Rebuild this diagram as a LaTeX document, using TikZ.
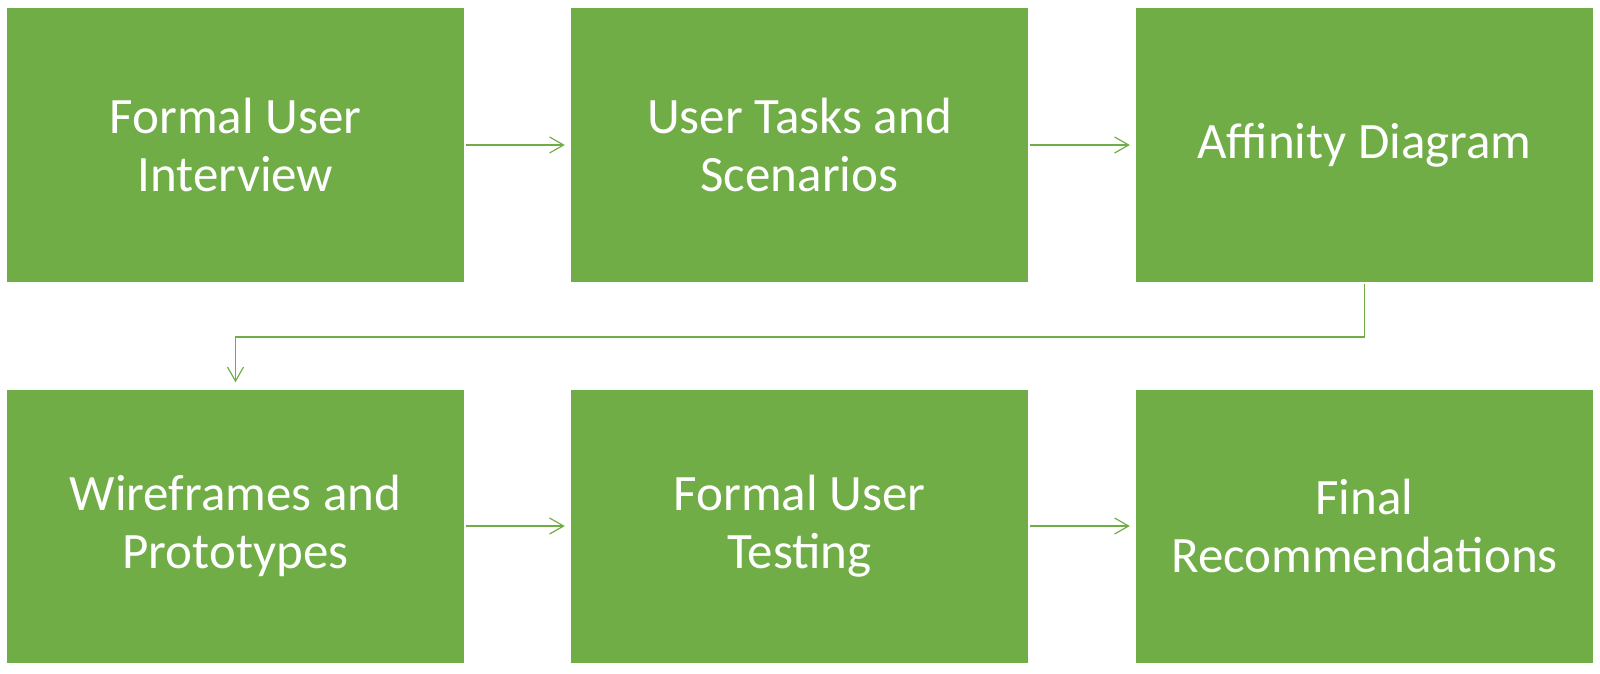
\documentclass[tikz,border=0pt]{standalone}
\usepackage{fontspec}
\setmainfont{Carlito}
\usepackage{xcolor}
\usetikzlibrary{arrows.meta, positioning}
\definecolor{stepgreen}{HTML}{70AD47}

\begin{document}
\begin{tikzpicture}[x=1pt, y=1pt, >={Straight Barb[length=14pt, width=16pt]},
    box/.style={fill=stepgreen, text=white, align=center, inner sep=0pt,
        minimum width=457pt, minimum height=273pt,
        font=\fontsize{51}{58}\selectfont},
    link/.style={->, draw=stepgreen, line width=1.2pt}]
            \useasboundingbox (0,0) rectangle (1600,-674);

            \node[box] (b1) at (235.5, -145) {Formal User\\Interview};
            \node[box] (b2) at (799.5, -145) {User Tasks and\\Scenarios};
            \node[box] (b3) at (1364.5, -145) {Affinity Diagram};
            \node[box] (b4) at (235.5, -526) {Wireframes and\\Prototypes};
            \node[box] (b5) at (799.5, -526) {Formal User\\Testing};
            \node[box] (b6) at (1364.5, -526) {Final\\Recommendations};

            \coordinate (c1) at (1364.5, -337);
            \coordinate (c2) at (235.5, -337);

            \draw[link, shorten <=2pt, shorten >=6pt] (b1) -- (b2);
            \draw[link, shorten <=2pt, shorten >=6pt] (b2) -- (b3);
            \draw[link, shorten <=2pt, shorten >=7pt] (b3.south) -- (c1) -- (c2) -- (b4.north);
            \draw[link, shorten <=2pt, shorten >=6pt] (b4) -- (b5);
            \draw[link, shorten <=2pt, shorten >=6pt] (b5) -- (b6);
        \end{tikzpicture}
\end{document}
